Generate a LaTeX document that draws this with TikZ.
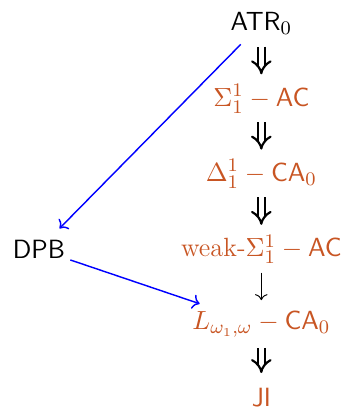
\documentclass[tikz,border=0pt]{standalone}
\usepackage{amsmath}
\usetikzlibrary{arrows.meta,positioning}
\definecolor{SystemOrange}{RGB}{200,85,35}

\begin{document}
\begin{tikzpicture}[>=To, node distance=14pt and 44pt,
    every node/.style={font=\fontsize{11}{13}\selectfont\sffamily,
        minimum height=17pt, inner sep=2pt},
    system/.style={text=SystemOrange},
    implies/.style={double, double distance=2pt, line width=0.9pt, -{Implies[scale=1.2]},
        shorten <=1pt, shorten >=1.5pt},
    weaker/.style={->, shorten <=1pt, shorten >=1.5pt},
    link/.style={->, blue, semithick}]
\useasboundingbox (-109pt,9.8pt) rectangle (35pt,-160.8pt);
\node (atr) at (0,0) {$\mathsf{ATR}_0$};
\node[system, below=of atr] (sac) {$\Sigma^1_1 - \mathsf{AC}$};
\node[system, below=of sac] (dca) {$\Delta^1_1 - \mathsf{CA}_0$};
\node[system, below=of dca] (wac) {\textrm{weak-}$\Sigma^1_1 - \mathsf{AC}$};
\node[system, below=of wac] (lca) {$L_{\omega_1,\omega} - \mathsf{CA}_0$};
\node[system, below=13pt of lca] (ji) {JI};
\node[left=of wac] (dpb) {DPB};
\draw[implies] (atr) -- (sac);
\draw[implies] (sac) -- (dca);
\draw[implies] (dca) -- (wac);
\draw[weaker] (wac) -- (lca);
\draw[implies] (lca) -- (ji);
\draw[link] (atr) -- (dpb);
\draw[link] (dpb) -- (lca);
\end{tikzpicture}
\end{document}
